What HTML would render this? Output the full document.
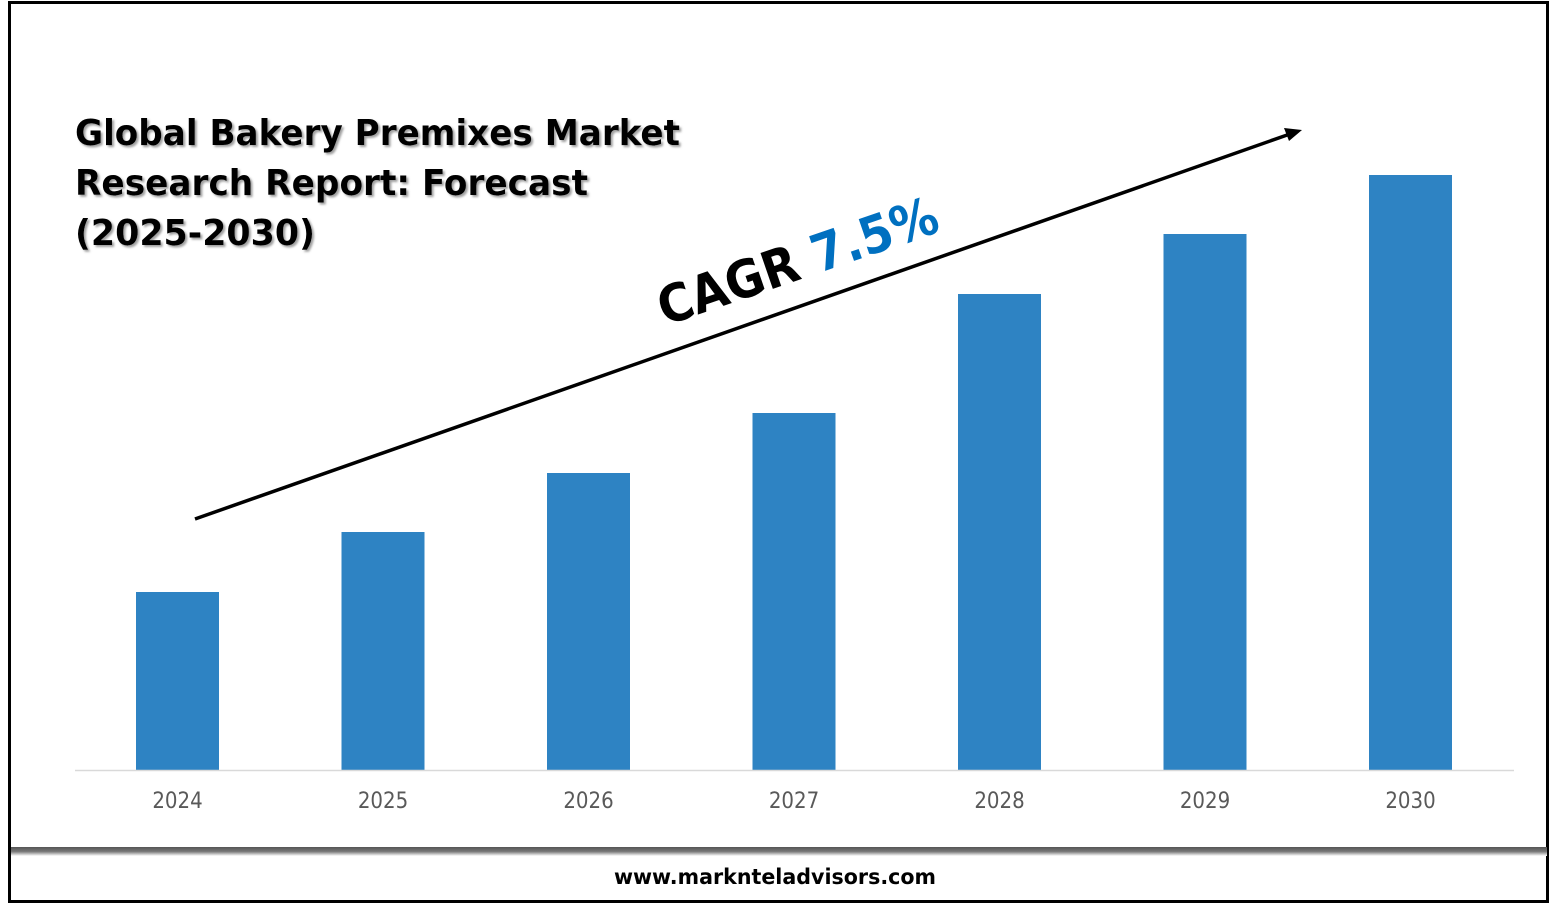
<!DOCTYPE html>
<html><head><meta charset="utf-8"><style>
html,body{margin:0;padding:0;background:#fff;width:1557px;height:906px;overflow:hidden}
svg{display:block}
</style></head><body>
<svg width="1557" height="906" viewBox="0 0 1557 906">
<defs>
<linearGradient id="sh" x1="0" y1="0" x2="0" y2="1">
<stop offset="0" stop-color="#555"/><stop offset="0.5" stop-color="#777"/><stop offset="1" stop-color="#fff"/>
</linearGradient>
<filter id="ts" x="-5%" y="-20%" width="110%" height="140%"><feDropShadow dx="2" dy="2" stdDeviation="1" flood-color="#888" flood-opacity="0.8"/></filter>
</defs>
<rect x="9.5" y="2.5" width="1538" height="899" fill="#fff" stroke="#000" stroke-width="3"/>
<rect x="11" y="847" width="1536" height="9" fill="url(#sh)"/>
<g filter="url(#ts)" font-family="'DejaVu Sans Condensed','Liberation Sans',sans-serif" font-weight="bold" font-size="36" fill="#000">
<text x="75" y="145" textLength="605" lengthAdjust="spacingAndGlyphs">Global Bakery Premixes Market</text>
<text x="75" y="195" textLength="513" lengthAdjust="spacingAndGlyphs">Research Report: Forecast</text>
<text x="75" y="245" textLength="240" lengthAdjust="spacingAndGlyphs">(2025-2030)</text>
</g>
<g id="bars"></g>
<line x1="75" y1="770.5" x2="1514" y2="770.5" stroke="#d9d9d9" stroke-width="1.5"/>
<g id="labels" font-family="'DejaVu Sans Condensed','Liberation Sans',sans-serif" font-size="22" fill="#595959" text-anchor="middle"></g>
<line x1="195" y1="519" x2="1290" y2="134" stroke="#000" stroke-width="3.5"/>
<polygon points="1302,130 1284,128 1289,141" fill="#000"/>
<text transform="translate(665,326) rotate(-19)" font-family="'DejaVu Sans','Liberation Sans',sans-serif" font-size="52" font-weight="bold" textLength="293" lengthAdjust="spacingAndGlyphs"><tspan fill="#000">CAGR </tspan><tspan fill="#0070c0">7.5%</tspan></text>
<text x="775" y="884" text-anchor="middle" font-family="'DejaVu Sans','Liberation Sans',sans-serif" font-weight="bold" font-size="21" fill="#000" textLength="322" lengthAdjust="spacingAndGlyphs">www.marknteladvisors.com</text>
</svg>
<script>
const categories = ["2024","2025","2026","2027","2028","2029","2030"];
const values = [1.78, 2.38, 2.97, 3.57, 4.76, 5.36, 5.95];
const NS = "http://www.w3.org/2000/svg";
const baseY = 770, pxPerUnit = 100, firstX = 177.5, step = 205.5, barW = 83;
function xPos(i){ return firstX + i*step; }
function yPos(v){ return baseY - v*pxPerUnit; }
const bg = document.getElementById('bars'), lg = document.getElementById('labels');
categories.forEach((c,i)=>{
  const r = document.createElementNS(NS,'rect');
  r.setAttribute('x', xPos(i)-barW/2);
  r.setAttribute('y', yPos(values[i]));
  r.setAttribute('width', barW);
  r.setAttribute('height', baseY - yPos(values[i]));
  r.setAttribute('fill', '#2e83c3');
  
  
  bg.appendChild(r);
  const t = document.createElementNS(NS,'text');
  t.setAttribute('x', xPos(i));
  t.setAttribute('y', 808);
  t.textContent = c;
  
  
  lg.appendChild(t);
});
</script>
</body></html>
